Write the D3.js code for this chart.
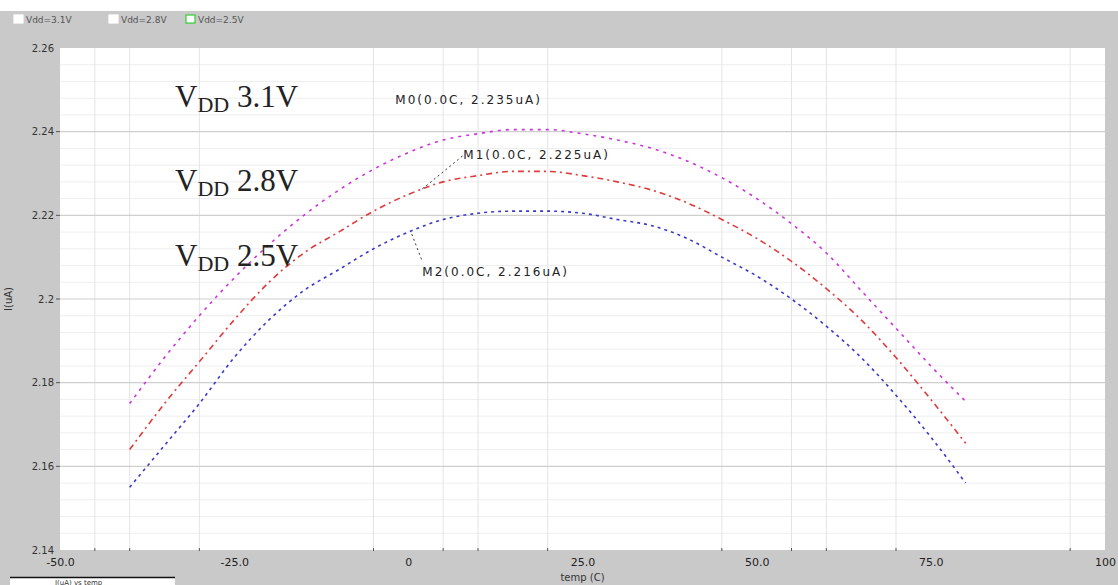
<!DOCTYPE html>
<html>
<head>
<meta charset="utf-8">
<script src="https://cdn.jsdelivr.net/npm/d3@7"></script>
<style>
  html, body { margin: 0; padding: 0; background: #ffffff; }
  svg { display: block; }
</style>
</head>
<body>
<svg id="chart" width="1118" height="585"></svg>
<script>
// Supply current vs temperature at three VDD corners
const temps = [-40, -35, -30, -25, -20, -15, -10, -5, 0, 5, 10, 15, 20, 25, 30, 35, 40, 45, 50, 55, 60, 65, 70, 75, 80];
const vdd31 = [2.175, 2.186, 2.196, 2.205, 2.213, 2.220, 2.226, 2.231, 2.235, 2.238, 2.2395, 2.2405, 2.2405, 2.2395, 2.238, 2.236, 2.233, 2.229, 2.224, 2.218, 2.211, 2.202, 2.193, 2.184, 2.1755];
const vdd28 = [2.164, 2.175, 2.185, 2.195, 2.204, 2.211, 2.216, 2.221, 2.225, 2.228, 2.2295, 2.2305, 2.2305, 2.2295, 2.228, 2.226, 2.223, 2.219, 2.2145, 2.209, 2.2025, 2.195, 2.186, 2.176, 2.1655];
const vdd25 = [2.155, 2.165, 2.175, 2.186, 2.195, 2.202, 2.207, 2.212, 2.216, 2.219, 2.2205, 2.221, 2.221, 2.2205, 2.219, 2.2175, 2.2145, 2.210, 2.2055, 2.200, 2.1935, 2.186, 2.177, 2.167, 2.156];

const seriesNames = ["Vdd=3.1V", "Vdd=2.8V", "Vdd=2.5V"];
const seriesColors = ["#cc33dd", "#e03a3a", "#3a3ac8"];
const seriesDash = ["3,5", "6,4,2,4", "3,4"];

const xTicks = [-50, -25, 0, 25, 50, 75, 100];
const xTickLabels = ["-50.0", "-25.0", "0", "25.0", "50.0", "75.0", "100"];
const yTicks = [2.14, 2.16, 2.18, 2.20, 2.22, 2.24, 2.26];
const yTickLabels = ["2.14", "2.16", "2.18", "2.2", "2.22", "2.24", "2.26"];
const xGrid = [-45, -40, -30, -5, 5, 10, 20, 45, 55, 60, 70, 95];

const markers = [
  { name: "M0", t: 0, v: 2.235, label: "M0(0.0C, 2.235uA)" },
  { name: "M1", t: 0, v: 2.225, label: "M1(0.0C, 2.225uA)" },
  { name: "M2", t: 0, v: 2.216, label: "M2(0.0C, 2.216uA)" }
];
const vddNotes = [
  { v: "3.1V", at: 2.246 },
  { v: "2.8V", at: 2.2258 },
  { v: "2.5V", at: 2.2078 }
];

const svg = d3.select("#chart");
const W = 1118, H = 585;
const plotL = 60, plotR = 1105, plotT = 48, plotB = 550;

const x = d3.scaleLinear().domain([-50, 100]).range([plotL, plotR]);
const y = d3.scaleLinear().domain([2.14, 2.26]).range([plotB, plotT]);

// window background
svg.append("rect").attr("x", 0).attr("y", 11).attr("width", W).attr("height", H - 11).attr("fill", "#c9c9c9");
// plot area
svg.append("rect").attr("x", plotL).attr("y", plotT).attr("width", plotR - plotL).attr("height", plotB - plotT).attr("fill", "#ffffff");

const grid = svg.append("g");
// minor horizontal grid
d3.range(2.144, 2.26, 0.004).forEach(v => {
  if (Math.abs(Math.round(v / 0.02) * 0.02 - v) < 1e-6) return;
  grid.append("line").attr("x1", plotL).attr("x2", plotR).attr("y1", y(v)).attr("y2", y(v))
    .attr("stroke", "#eeeeee").attr("stroke-width", 1);
});
// vertical grid
xGrid.forEach(t => {
  grid.append("line").attr("x1", x(t)).attr("x2", x(t)).attr("y1", plotT).attr("y2", plotB)
    .attr("stroke", "#e4e4e4").attr("stroke-width", 1);
});
// major horizontal grid
yTicks.slice(1, -1).forEach(v => {
  grid.append("line").attr("x1", plotL).attr("x2", plotR).attr("y1", y(v)).attr("y2", y(v))
    .attr("stroke", "#cfcfcf").attr("stroke-width", 1.2);
});

// axes
const xAxis = d3.axisBottom(x).tickValues(xTicks).tickSize(0).tickPadding(8)
  .tickFormat((d, i) => xTickLabels[i]);
const gx = svg.append("g").attr("transform", `translate(0,${plotB})`).call(xAxis);
gx.select(".domain").remove();
gx.selectAll("text").attr("font-family", "DejaVu Sans, sans-serif").attr("font-size", 11).attr("fill", "#222");

const yAxis = d3.axisLeft(y).tickValues(yTicks).tickSize(0).tickPadding(6)
  .tickFormat((d, i) => yTickLabels[i]);
const gy = svg.append("g").attr("transform", `translate(${plotL},0)`).call(yAxis);
gy.select(".domain").remove();
gy.selectAll("text").attr("font-family", "DejaVu Sans, sans-serif").attr("font-size", 10).attr("fill", "#333");

// small tick dots
xGrid.forEach(t => {
  svg.append("line").attr("x1", x(t)).attr("x2", x(t)).attr("y1", plotB - 2).attr("y2", plotB + 1)
    .attr("stroke", "#555").attr("stroke-width", 1);
});
yTicks.slice(1, -1).forEach(v => {
  svg.append("line").attr("x1", plotL - 4).attr("x2", plotL).attr("y1", y(v)).attr("y2", y(v))
    .attr("stroke", "#555").attr("stroke-width", 1);
});

// axis titles
svg.append("text").attr("x", x(25)).attr("y", 581).attr("text-anchor", "middle")
  .attr("font-family", "DejaVu Sans, sans-serif").attr("font-size", 10).attr("fill", "#333").text("temp (C)");
svg.append("text").attr("transform", `translate(12,${y(2.20)}) rotate(-90)`).attr("text-anchor", "middle")
  .attr("font-family", "DejaVu Sans, sans-serif").attr("font-size", 10).attr("fill", "#333").text("I(uA)");

// legend strip
const legend = svg.append("g").attr("transform", "translate(14,20)");
const legendX = [0, 95, 172];
seriesNames.forEach((n, i) => {
  const g = legend.append("g").attr("transform", `translate(${legendX[i]},0)`);
  g.append("rect").attr("x", 0).attr("y", -5).attr("width", 9).attr("height", 8)
    .attr("fill", "#ffffff").attr("stroke", i === 2 ? "#33cc33" : "#ffffff").attr("stroke-width", 1.2);
  g.append("text").attr("x", 12).attr("y", 3).attr("font-family", "DejaVu Sans, sans-serif")
    .attr("font-size", 9).attr("fill", "#555").text(n);
});

// curves
const allSeries = [vdd31, vdd28, vdd25];
const line = d3.line().x(d => x(d[0])).y(d => y(d[1])).curve(d3.curveMonotoneX);
allSeries.forEach((vals, i) => {
  svg.append("path").datum(temps.map((t, k) => [t, vals[k]]))
    .attr("d", line).attr("fill", "none").attr("stroke", seriesColors[i])
    .attr("stroke-width", 1.6).attr("stroke-dasharray", seriesDash[i]);
});

// VDD notes
vddNotes.forEach(n => {
  const t = svg.append("text").attr("x", 175).attr("y", y(n.at)).attr("font-family", "Liberation Serif, serif")
    .attr("font-size", 31).attr("fill", "#222");
  t.append("tspan").text("V");
  t.append("tspan").attr("font-size", 22).attr("dy", 5).text("DD");
  t.append("tspan").attr("dy", -5).text(" " + n.v);
});

// markers and labels
const mLabelPos = [
  { dx: -13, vy: 2.2465 },
  { dx: 55, vy: 2.2335 },
  { dx: 14, vy: 2.2055 }
];
const mLeads = [
  null,
  { from: [2, 2.2263], to: [8, 2.2345] },
  { from: [0.5, 2.2155], to: [2, 2.209] }
];
markers.forEach((m, i) => {
  const p = mLabelPos[i];
  const lead = mLeads[i];
  if (lead) {
    svg.append("line").attr("x1", x(lead.from[0])).attr("y1", y(lead.from[1]))
      .attr("x2", x(lead.to[0])).attr("y2", y(lead.to[1]))
      .attr("stroke", "#333").attr("stroke-width", 1).attr("stroke-dasharray", "2,3");
  }
  svg.append("text").attr("x", x(m.t) + p.dx).attr("y", y(p.vy)).attr("font-family", "DejaVu Sans, sans-serif")
    .attr("font-size", 12).attr("letter-spacing", 2).attr("fill", "#222").text(m.label);
});

// bottom-left status box
svg.append("rect").attr("x", 10).attr("y", 578).attr("width", 165).attr("height", 7).attr("fill", "#ffffff");
svg.append("line").attr("x1", 10).attr("x2", 175).attr("y1", 577.5).attr("y2", 577.5).attr("stroke", "#111").attr("stroke-width", 1.5);
svg.append("text").attr("x", 55).attr("y", 584.5).attr("font-family", "DejaVu Sans, sans-serif")
  .attr("font-size", 7).attr("fill", "#333").text("I(uA)  vs  temp");
</script>
</body>
</html>
